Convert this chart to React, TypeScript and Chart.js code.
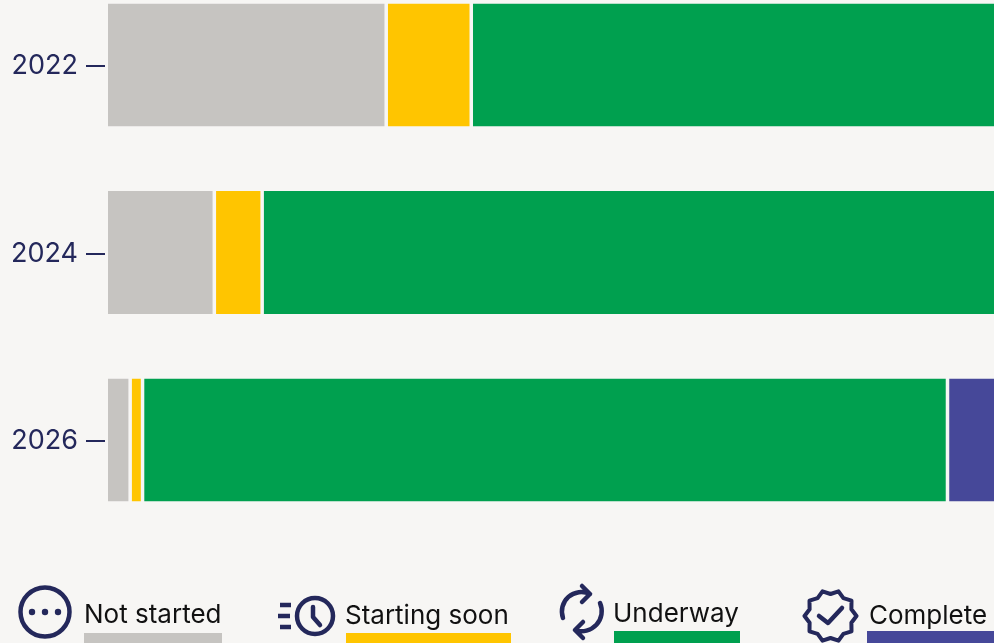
import React, { useEffect, useRef } from "react";
import { Chart, registerables } from "chart.js";

Chart.register(...registerables);

const years = ["2022", "2024", "2026"];
const notStarted = [31.4, 12, 2.5];
const startingSoon = [9.6, 5.4, 1.4];
const underway = [60, 84, 90.85];
const complete = [0, 0, 6];

const BG = "#f7f6f4";
const NAVY = "#24285b";
const GREY = "#c6c4c1";
const YELLOW = "#ffc500";
const GREEN = "#00a04f";
const BLUE = "#464899";
const FONT = "Inter, sans-serif";

const legendLabels = [
  { text: "Not started", x: 84, y: 599, swatchX: 84, swatchW: 138, swatchY: 633, color: GREY },
  { text: "Starting soon", x: 345, y: 600, swatchX: 346, swatchW: 165, swatchY: 633, color: YELLOW },
  { text: "Underway", x: 613, y: 598, swatchX: 614, swatchW: 126, swatchY: 631, color: GREEN },
  { text: "Complete", x: 869, y: 600, swatchX: 867, swatchW: 127, swatchY: 631, color: BLUE },
];

function starPath(cx: number, cy: number, outer: number, inner: number, points: number) {
  const parts: string[] = [];
  for (let i = 0; i < points * 2; i++) {
    const r = i % 2 === 0 ? outer : inner;
    const a = (Math.PI * i) / points;
    parts.push(`${(cx + r * Math.cos(a)).toFixed(1)} ${(cy + r * Math.sin(a)).toFixed(1)}`);
  }
  return `M${parts.join("L")}Z`;
}

function Icons() {
  return (
    <svg width={994} height={643} style={{ position: "absolute", left: 0, top: 0 }} fill="none" stroke={NAVY} strokeWidth={4.5}>
      <circle cx={45} cy={612} r={24.5} />
      <circle cx={32} cy={612} r={3.2} fill={NAVY} stroke="none" />
      <circle cx={45} cy={612} r={3.2} fill={NAVY} stroke="none" />
      <circle cx={58} cy={612} r={3.2} fill={NAVY} stroke="none" />

      <circle cx={315} cy={616} r={18} />
      <path d="M313 607v10l7 8" strokeLinecap="round" strokeLinejoin="round" />
      <path d="M280 605h11M278 616h12M280 627h11" />

      <path d="M563 618A19.5 19.5 0 0 1 590 594M582 586l8 8-8 8" strokeLinecap="round" strokeLinejoin="round" />
      <path d="M600 603A20 20 0 0 1 575 630M583 622l-8 8 8 8" strokeLinecap="round" strokeLinejoin="round" />

      <path d={starPath(830.5, 616, 26, 22, 10)} strokeWidth={4} strokeLinejoin="round" />
      <path d="M819 616l9 7 14-15" strokeLinecap="round" strokeLinejoin="round" />
    </svg>
  );
}

const dashPlugin = {
  id: "tickDash",
  afterDraw(chart: any) {
    const { ctx, scales } = chart;
    const y = scales.y;
    ctx.save();
    ctx.strokeStyle = NAVY;
    ctx.lineWidth = 2;
    y.ticks.forEach((_t: any, i: number) => {
      const py = Math.round(y.getPixelForTick(i)) + 1;
      ctx.beginPath();
      ctx.moveTo(chart.chartArea.left - 22, py);
      ctx.lineTo(chart.chartArea.left - 3, py);
      ctx.stroke();
    });
    ctx.restore();
  },
};

export default function App() {
  const ref = useRef<HTMLCanvasElement | null>(null);

  useEffect(() => {
    document.body.style.margin = "0";
    document.body.style.background = BG;
    document.body.style.overflow = "hidden";
    const seg = (label: string, data: number[], color: string, left = 1.75) => ({
      label,
      data,
      backgroundColor: color,
      borderColor: BG,
      borderWidth: { left, right: 1.75, top: 0, bottom: 0 },
      borderSkipped: false as const,
      barPercentage: 0.655,
      categoryPercentage: 1,
    });
    const chart = new Chart(ref.current as HTMLCanvasElement, {
      type: "bar",
      data: {
        labels: years,
        datasets: [
          seg("Not started", notStarted, GREY, 0),
          seg("Starting soon", startingSoon, YELLOW),
          seg("Underway", underway, GREEN),
          seg("Complete", complete, BLUE),
        ],
      },
      options: {
        indexAxis: "y",
        animation: false,
        responsive: false,
        layout: { padding: 0 },
        plugins: { legend: { display: false }, tooltip: { enabled: false } },
        scales: {
          x: { stacked: true, min: 0, max: 100, display: false },
          y: {
            stacked: true,
            afterFit: (s: any) => {
              s.width = 108;
            },
            border: { display: false },
            grid: { display: false, drawTicks: false },
            ticks: {
              padding: 30,
              labelOffset: 1,
              color: NAVY,
              font: { family: FONT, size: 27 },
            },
          },
        },
      },
      plugins: [dashPlugin],
    });
    return () => chart.destroy();
  }, []);

  return (
    <div style={{ position: "relative", width: 994, height: 643, overflow: "hidden", background: BG }}>
      <canvas ref={ref} width={994} height={655} style={{ position: "absolute", left: 0, top: -75, display: "block" }} />
      <Icons />
      {legendLabels.map((l) => (
        <React.Fragment key={l.text}>
          <div style={{ position: "absolute", left: l.x, top: l.y, fontFamily: FONT, fontSize: 26, lineHeight: "30px", color: "#111", whiteSpace: "nowrap" }}>{l.text}</div>
          <div style={{ position: "absolute", left: l.swatchX, top: l.swatchY, width: l.swatchW, height: 643 - l.swatchY, background: l.color }} />
        </React.Fragment>
      ))}
    </div>
  );
}
